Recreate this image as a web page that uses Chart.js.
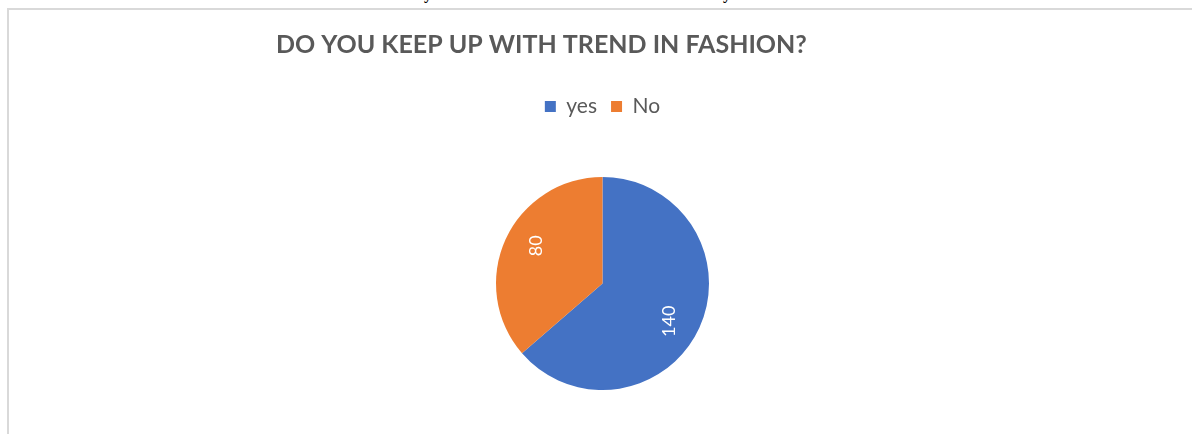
<!DOCTYPE html>
<html>
<head>
<meta charset="utf-8">
<script src="https://cdn.jsdelivr.net/npm/chart.js@4/dist/chart.umd.min.js"></script>
<style>
  html, body { margin: 0; padding: 0; background: #ffffff; width: 1192px; height: 434px; overflow: hidden; position: relative; }
  #frame { position: absolute; left: 7px; top: 8px; width: 1200px; height: 440px; border-top: 2px solid #d9d9d9; border-left: 2px solid #d9d9d9; box-sizing: border-box; }
  #wrap { position: absolute; left: 9px; top: 10px; width: 1183px; height: 424px; }
  .frag { position: absolute; top: -14px; font-family: "Liberation Serif", "DejaVu Serif", serif; font-weight: bold; font-size: 16px; line-height: 1; color: #000; }
</style>
</head>
<body>
<span class="frag" style="left:424px">y</span>
<span class="frag" style="left:723px">y</span>
<div id="frame"></div>
<div id="wrap"><canvas id="c"></canvas></div>
<script>
const chartTitle = "DO YOU KEEP UP WITH TREND IN FASHION?";
const categories = ["yes", "No"];
const values = [140, 80];
const colors = ["#4472C4", "#ED7D31"];

const rotatedLabels = {
  id: 'rotatedLabels',
  afterDatasetsDraw(chart, args, opts) {
    const ctx = chart.ctx;
    const meta = chart.getDatasetMeta(0);
    meta.data.forEach((arc, i) => {
      const p = arc.getProps(['x', 'y', 'startAngle', 'endAngle', 'outerRadius'], true);
      const mid = (p.startAngle + p.endAngle) / 2 + opts.angleShift;
      const r = p.outerRadius * opts.radiusFactor;
      const x = p.x + Math.cos(mid) * r;
      const y = p.y + Math.sin(mid) * r;
      ctx.save();
      ctx.translate(x, y);
      ctx.rotate(-Math.PI / 2);
      ctx.fillStyle = '#ffffff';
      ctx.font = opts.font;
      ctx.textAlign = 'center';
      ctx.textBaseline = 'middle';
      ctx.fillText(String(chart.data.datasets[0].data[i]), 0, 0);
      ctx.restore();
    });
  }
};

// adds empty space below the legend (Excel leaves a gap between legend and pie)
const legendGap = {
  id: 'legendGap',
  beforeLayout(chart, args, opts) {
    const lg = chart.legend;
    if (lg && !lg._gapPatched) {
      const orig = lg.fit;
      lg.fit = function () { orig.call(this); this.height += opts.extra; };
      lg._gapPatched = true;
    }
  }
};

new Chart(document.getElementById('c'), {
  type: 'pie',
  data: {
    labels: categories,
    datasets: [{ data: values, backgroundColor: colors, borderWidth: 0 }]
  },
  options: {
    responsive: true,
    maintainAspectRatio: false,
    animation: false,
    layout: { padding: { left: 267, right: 263, top: 20, bottom: 44 } },
    plugins: {
      title: {
        display: true,
        text: chartTitle,
        align: 'start',
        color: '#595959',
        font: { family: 'Lato', weight: 'bold', size: 25 },
        padding: { top: 0, bottom: 22 }
      },
      legend: {
        display: true,
        position: 'top',
        labels: {
          color: '#595959',
          font: { family: 'Lato', size: 21 },
          boxWidth: 11,
          boxHeight: 11,
          padding: 14
        }
      },
      tooltip: { enabled: false },
      legendGap: { extra: 50 },
      rotatedLabels: { font: '18px Lato', radiusFactor: 0.72, angleShift: 5 * Math.PI / 180 }
    }
  },
  plugins: [rotatedLabels, legendGap]
});
</script>
</body>
</html>
